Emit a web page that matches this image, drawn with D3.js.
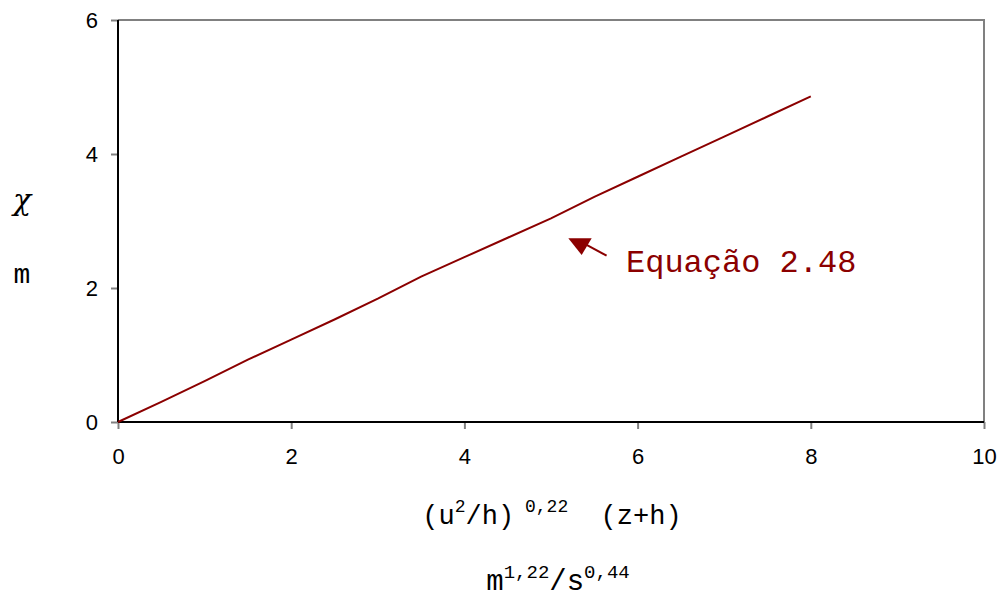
<!DOCTYPE html>
<html>
<head>
<meta charset="utf-8">
<script src="https://cdn.jsdelivr.net/npm/d3@7"></script>
<style>
  html, body { margin: 0; padding: 0; background: #fff; }
  svg { display: block; }
</style>
</head>
<body>
<svg id="chart" width="1002" height="598"></svg>
<script>
// Curve of equation 2.48: x = (u²/h)^0,22 (z+h), y = χ (m)
const xValues = [0, 0.5, 1, 1.5, 2, 2.5, 3, 3.5, 4, 4.5, 5, 5.5, 6, 6.5, 7, 7.5, 8];
const yValues = [0, 0.30, 0.61, 0.93, 1.23, 1.53, 1.84, 2.17, 2.46, 2.75, 3.04, 3.36, 3.66, 3.96, 4.26, 4.56, 4.86];
const xTicks = [0, 2, 4, 6, 8, 10];
const yTicks = [0, 2, 4, 6];

// Annotation placed in data units
const arrowHead = [[5.20, 2.742], [5.47, 2.742], [5.354, 2.493]];
const arrowTail = [[5.411, 2.642], [5.642, 2.482]];
const noteAt = [5.866, 2.239];
const noteText = "Equação 2.48";

(function () {
const svg = d3.select("#chart");
const mLeft = 118, mRight = 984, mTop = 20, mBottom = 422;

const x = d3.scaleLinear().domain([0, 10]).range([mLeft, mRight]);
const y = d3.scaleLinear().domain([0, 6]).range([mBottom, mTop]);

const lineColor = "#8b0000";
const tickColor = "#808080";
const mono = "'Liberation Mono', 'Courier New', monospace";

// plot frame: gray top/right edges
svg.append("path")
  .attr("d", `M${mLeft},${mTop}H${mRight}V${mBottom}`)
  .attr("fill", "none")
  .attr("stroke", tickColor)
  .attr("stroke-width", 2);

// axes
const xAxis = d3.axisBottom(x).tickValues(xTicks).tickSize(7).tickPadding(19).tickFormat(d3.format("d"));
const yAxis = d3.axisLeft(y).tickValues(yTicks).tickSize(7).tickPadding(13).tickFormat(d3.format("d"));

const gx = svg.append("g").attr("transform", `translate(0,${mBottom})`).call(xAxis);
const gy = svg.append("g").attr("transform", `translate(${mLeft},0)`).call(yAxis);

[gx, gy].forEach(g => {
  g.attr("font-size", 22).attr("font-family", "'Liberation Sans', Arial, sans-serif");
  g.select(".domain").remove();
  g.selectAll(".tick line").attr("stroke", tickColor).attr("stroke-width", 2);
  g.selectAll(".tick text").attr("fill", "#000");
});

// black axis lines
svg.append("line").attr("x1", mLeft).attr("x2", mLeft).attr("y1", mTop).attr("y2", mBottom)
  .attr("stroke", "#000").attr("stroke-width", 2);
svg.append("line").attr("x1", mLeft).attr("x2", mRight).attr("y1", mBottom).attr("y2", mBottom)
  .attr("stroke", "#000").attr("stroke-width", 2);

// the curve
const pts = xValues.map((v, i) => [v, yValues[i]]);
svg.append("path")
  .datum(pts)
  .attr("fill", "none")
  .attr("stroke", lineColor)
  .attr("stroke-width", 2)
  .attr("d", d3.line().x(d => x(d[0])).y(d => y(d[1])));

// annotation arrow and label
svg.append("polygon")
  .attr("points", arrowHead.map(p => [x(p[0]), y(p[1])].join(",")).join(" "))
  .attr("fill", lineColor);
svg.append("line")
  .attr("x1", x(arrowTail[0][0])).attr("y1", y(arrowTail[0][1]))
  .attr("x2", x(arrowTail[1][0])).attr("y2", y(arrowTail[1][1]))
  .attr("stroke", lineColor).attr("stroke-width", 2);
svg.append("text")
  .attr("x", x(noteAt[0])).attr("y", y(noteAt[1]))
  .attr("fill", lineColor)
  .style("font-family", mono)
  .style("font-size", "32px")
  .text(noteText);

// axis titles with superscripts
function richText(parts, cx, cy, size, supSize) {
  const t = svg.append("text")
    .attr("x", cx).attr("y", cy)
    .attr("text-anchor", "middle")
    .attr("fill", "#000")
    .style("font-family", mono)
    .style("font-size", size + "px")
    .style("white-space", "pre");
  let shifted = false;
  parts.forEach(([s, sup]) => {
    const ts = t.append("tspan").text(s);
    if (sup) {
      ts.style("font-size", supSize + "px");
      if (!shifted) { ts.attr("dy", -12); shifted = true; }
    } else if (shifted) {
      ts.attr("dy", 12); shifted = false;
    }
  });
  return t;
}
richText([["(u", false], ["2", true], ["/h)", false], [" 0,22", true], ["  (z+h)", false]], 552, 524, 27, 18);
richText([["m", false], ["1,22", true], ["/s", false], ["0,44", true]], 558, 590, 29, 19);

// y title: χ over m
svg.append("text").attr("x", 22).attr("y", 210).attr("text-anchor", "middle")
  .style("font-family", "'DejaVu Serif', 'Liberation Serif', serif")
  .style("font-style", "italic")
  .style("font-size", "30px").text("χ");
svg.append("text").attr("x", 22).attr("y", 283).attr("text-anchor", "middle")
  .style("font-family", mono)
  .style("font-size", "28px").text("m");
})();
</script>
</body>
</html>
